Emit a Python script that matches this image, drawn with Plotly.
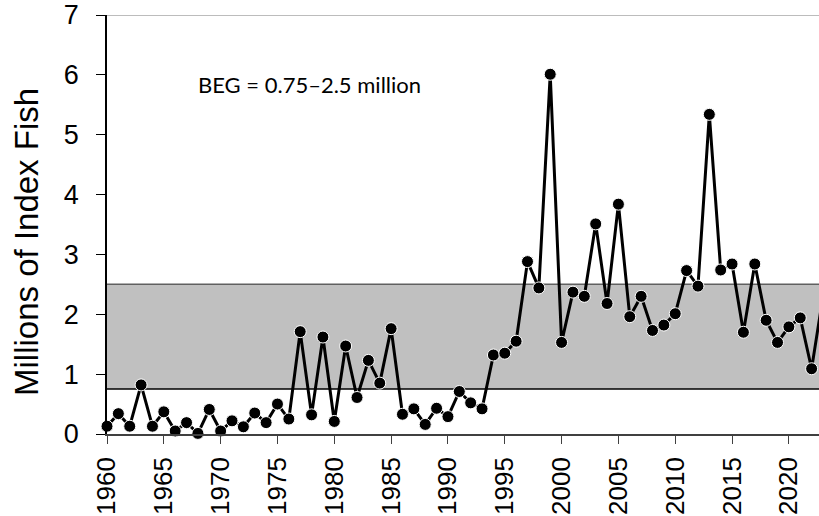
import plotly.graph_objects as go

# index fish estimates, millions
years = list(range(1960, 2024))
fish = [0.13, 0.34, 0.13, 0.82, 0.13, 0.37, 0.05, 0.19, 0.01, 0.41,
        0.05, 0.22, 0.12, 0.35, 0.19, 0.50, 0.25, 1.71, 0.32, 1.62,
        0.21, 1.47, 0.61, 1.23, 0.85, 1.76, 0.33, 0.42, 0.16, 0.43,
        0.29, 0.71, 0.52, 0.42, 1.32, 1.35, 1.55, 2.88, 2.44, 6.01,
        1.53, 2.37, 2.30, 3.51, 2.18, 3.84, 1.96, 2.30, 1.73, 1.82,
        2.01, 2.73, 2.47, 5.34, 2.74, 2.84, 1.70, 2.84, 1.90, 1.53,
        1.79, 1.94, 1.09, 2.30]

beg_low = 0.75
beg_high = 2.5
x_ticks = list(range(1960, 2025, 5))
y_ticks = list(range(0, 8))

fig = go.Figure()

# escapement goal band
fig.add_shape(type="rect", xref="paper", yref="y", x0=0, x1=1,
              y0=beg_low, y1=beg_high, fillcolor="#c0c0c0",
              line_width=0, layer="below")
fig.add_shape(type="line", xref="paper", yref="y", x0=0, x1=1,
              y0=beg_high, y1=beg_high, line=dict(color="#606060", width=1.5),
              layer="below")
fig.add_shape(type="line", xref="paper", yref="y", x0=0, x1=1,
              y0=beg_low, y1=beg_low, line=dict(color="black", width=1.5),
              layer="below")
# thin top frame
fig.add_shape(type="line", xref="paper", yref="y", x0=0, x1=1,
              y0=7, y1=7, line=dict(color="#a6a6a6", width=1.5))

fig.add_trace(go.Scatter(
    x=years, y=fish, mode="lines+markers",
    line=dict(color="black", width=3),
    marker=dict(color="black", size=12, line=dict(color="white", width=1)),
    cliponaxis=False, showlegend=False,
))

fig.add_annotation(x=1977.8, y=5.84, xref="x", yref="y",
                   text="BEG = 0.75\u20132.5 million", showarrow=False,
                   font=dict(family="Lato", size=22, color="black"))

# y title placed by hand (pixels -> paper coords)
fig.add_annotation(x=(26 - 107) / (819 - 107), y=(434 - 242) / (434 - 15),
                   xref="paper", yref="paper", xanchor="center", yanchor="middle",
                   text="Millions of Index Fish", showarrow=False,
                   textangle=-90,
                   font=dict(family="Liberation Sans", size=33, color="black"))

fig.update_layout(
    width=819, height=516,
    margin=dict(l=107, r=0, t=15, b=82, autoexpand=False),
    plot_bgcolor="white", paper_bgcolor="white",
    font=dict(family="Liberation Sans", color="black"),
    xaxis=dict(range=[1960, 2022.65], tickvals=x_ticks, tickangle=-90,
               ticks="outside", ticklen=8, tickcolor="#404040",
               showline=True, linecolor="#404040", linewidth=1.5,
               showgrid=False, zeroline=False, ticklabeloverflow="allow",
               tickfont=dict(size=26), ticklabelstandoff=3),
    yaxis=dict(range=[0, 7], tickvals=y_ticks,
               ticks="outside", ticklen=9, tickcolor="black",
               showline=True, linecolor="black", linewidth=1.5,
               showgrid=False, zeroline=False, ticklabeloverflow="allow",
               tickfont=dict(size=27), ticklabelstandoff=12),
)

# drop the browser's default body margin so the figure fills the window
fig.write_html("out.html", config={"displayModeBar": False},
               post_script="document.body.style.margin='0';"
                           "document.body.style.overflow='hidden';")
